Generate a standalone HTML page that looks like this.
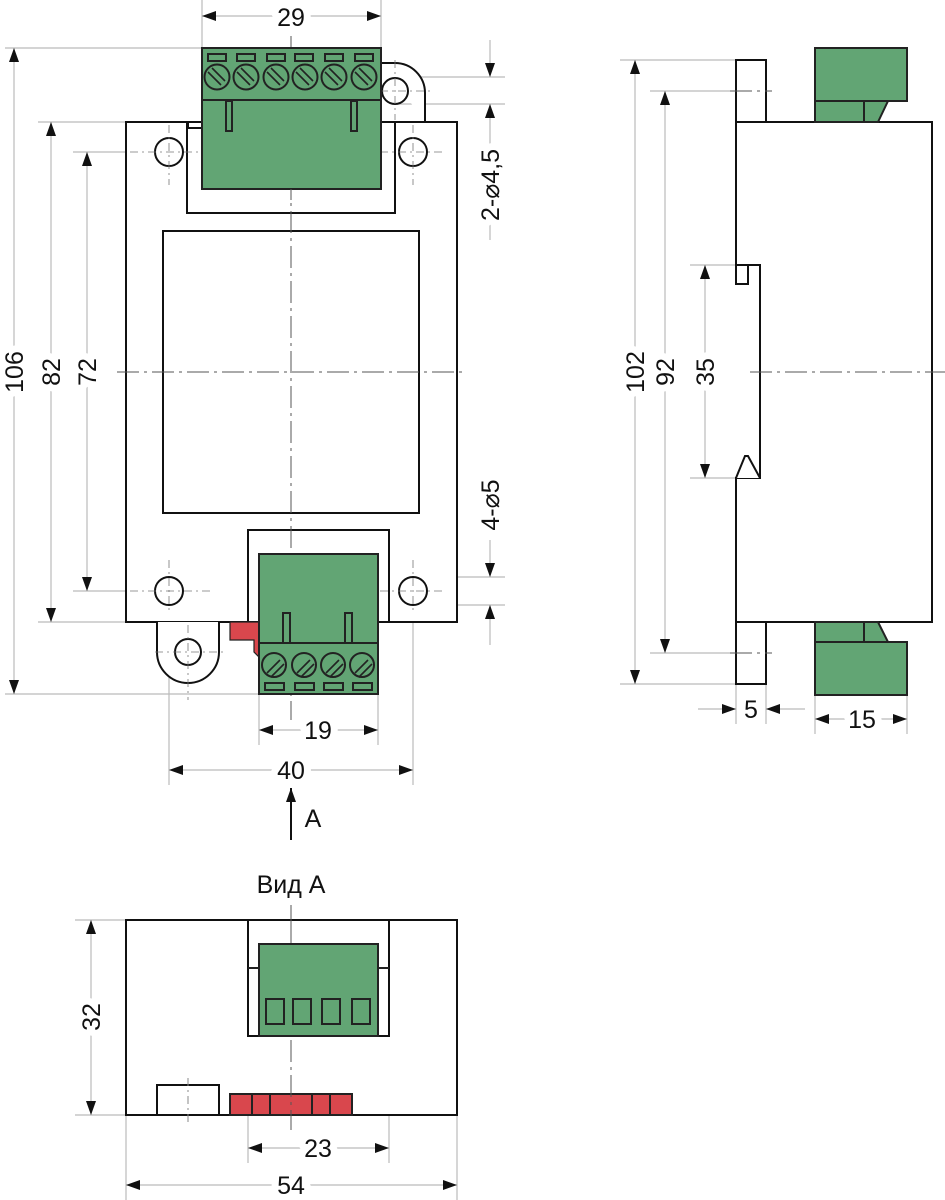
<!DOCTYPE html>
<html><head><meta charset="utf-8"><style>
html,body{margin:0;padding:0;background:#fff}
svg{display:block}
text{font-family:"Liberation Sans Narrow","Liberation Sans",sans-serif;font-size:25px;fill:#111}
.t{paint-order:stroke;stroke:#fff;stroke-width:14px;stroke-linejoin:round}
</style></head><body>
<svg width="945" height="1200" viewBox="0 0 945 1200" xmlns="http://www.w3.org/2000/svg">
<defs>
<marker id="a" viewBox="0 0 14 10" refX="14" refY="5" markerWidth="14" markerHeight="10" markerUnits="userSpaceOnUse" orient="auto-start-reverse"><path d="M0,0 L14,5 L0,10 Z" fill="#111"/></marker>
</defs>
<g stroke="#bbb" stroke-width="1.2" fill="none">
<line x1="202" y1="0" x2="202" y2="48"/><line x1="381" y1="0" x2="381" y2="48"/>
<line x1="5" y1="48" x2="202" y2="48"/><line x1="5" y1="694" x2="259" y2="694"/>
<line x1="38" y1="122" x2="126" y2="122"/><line x1="38" y1="622" x2="126" y2="622"/>
<line x1="73" y1="152" x2="140" y2="152"/><line x1="73" y1="591" x2="140" y2="591"/>
<line x1="395" y1="77" x2="505" y2="77"/><line x1="395" y1="104" x2="505" y2="104"/>
<line x1="413" y1="577" x2="505" y2="577"/><line x1="413" y1="605" x2="505" y2="605"/>
<line x1="259" y1="694" x2="259" y2="745"/><line x1="378" y1="694" x2="378" y2="745"/>
<line x1="169" y1="605" x2="169" y2="785"/><line x1="413" y1="605" x2="413" y2="785"/>
<line x1="620" y1="60" x2="736" y2="60"/><line x1="620" y1="684" x2="736" y2="684"/>
<line x1="650" y1="91" x2="730" y2="91"/><line x1="650" y1="653" x2="730" y2="653"/>
<line x1="690" y1="265" x2="736" y2="265"/><line x1="690" y1="478" x2="736" y2="478"/>
<line x1="736" y1="684" x2="736" y2="724"/><line x1="766" y1="684" x2="766" y2="724"/>
<line x1="815" y1="695" x2="815" y2="734"/><line x1="907" y1="695" x2="907" y2="734"/>
<line x1="75" y1="920" x2="126" y2="920"/><line x1="75" y1="1115" x2="126" y2="1115"/>
<line x1="248" y1="1036" x2="248" y2="1163"/><line x1="389" y1="1036" x2="389" y2="1163"/>
<line x1="126" y1="1115" x2="126" y2="1200"/><line x1="457" y1="1115" x2="457" y2="1200"/>
<line x1="202" y1="16" x2="381" y2="16" marker-start="url(#a)" marker-end="url(#a)"/>
<line x1="14" y1="48" x2="14" y2="694" marker-start="url(#a)" marker-end="url(#a)"/>
<line x1="51" y1="122" x2="51" y2="622" marker-start="url(#a)" marker-end="url(#a)"/>
<line x1="87" y1="152" x2="87" y2="591" marker-start="url(#a)" marker-end="url(#a)"/>
<line x1="490" y1="40" x2="490" y2="77" marker-end="url(#a)"/>
<line x1="490" y1="240" x2="490" y2="104" marker-end="url(#a)"/>
<line x1="490" y1="540" x2="490" y2="577" marker-end="url(#a)"/>
<line x1="490" y1="645" x2="490" y2="605" marker-end="url(#a)"/>
<line x1="259" y1="730" x2="378" y2="730" marker-start="url(#a)" marker-end="url(#a)"/>
<line x1="169" y1="770" x2="413" y2="770" marker-start="url(#a)" marker-end="url(#a)"/>
<line x1="635" y1="60" x2="635" y2="684" marker-start="url(#a)" marker-end="url(#a)"/>
<line x1="665" y1="91" x2="665" y2="653" marker-start="url(#a)" marker-end="url(#a)"/>
<line x1="705" y1="265" x2="705" y2="478" marker-start="url(#a)" marker-end="url(#a)"/>
<line x1="698" y1="709" x2="736" y2="709" marker-end="url(#a)"/>
<line x1="805" y1="709" x2="766" y2="709" marker-end="url(#a)"/>
<line x1="815" y1="719" x2="907" y2="719" marker-start="url(#a)" marker-end="url(#a)"/>
<line x1="91" y1="920" x2="91" y2="1115" marker-start="url(#a)" marker-end="url(#a)"/>
<line x1="248" y1="1148" x2="389" y2="1148" marker-start="url(#a)" marker-end="url(#a)"/>
<line x1="126" y1="1185" x2="457" y2="1185" marker-start="url(#a)" marker-end="url(#a)"/>
</g>
<g stroke="#111" stroke-width="2" fill="#fff">
<rect x="126" y="122" width="331" height="500"/>
<rect x="187" y="122" width="208" height="91"/>
<rect x="163" y="231" width="256" height="282"/>
<rect x="248" y="530" width="141" height="92"/>
<path d="M381,63 L395,63 A30,30 0 0 1 425,93 L425,122"/>
<path d="M157,622 L157,652 A31,31 0 0 0 219,652 L219,622" />
<circle cx="395" cy="91" r="13"/>
<circle cx="188" cy="652" r="13"/>
<circle cx="169" cy="152" r="14"/><circle cx="413" cy="152" r="14"/>
<circle cx="169" cy="591" r="14"/><circle cx="413" cy="591" r="14"/>
<rect x="188" y="122" width="14" height="6"/>
</g>
<!-- side view body -->
<g stroke="#111" stroke-width="2" fill="#fff">
<rect x="736" y="60" width="30" height="62"/>
<rect x="736" y="622" width="30" height="62"/>
<path d="M736,122 L932,122 L932,622 L736,622 L736,478 L760,478 L760,265 L736,265 Z"/>
<rect x="736" y="265" width="12" height="19"/>
<path d="M736,478 L745,456 L748,456 L760,478"/>
</g>
<!-- centerlines -->
<g stroke="#555" stroke-width="1" stroke-dasharray="22,5,3,5" fill="none">
<line x1="291" y1="36" x2="291" y2="720"/>
<line x1="117" y1="372" x2="466" y2="372"/>
<line x1="750" y1="372" x2="945" y2="372"/>
<line x1="730" y1="91" x2="772" y2="91"/><line x1="730" y1="653" x2="772" y2="653"/>
</g>
<g stroke="#777" stroke-width="0.8" stroke-dasharray="8,4,2,4" fill="none">
<line x1="130" y1="152" x2="205" y2="152"/><line x1="169" y1="125" x2="169" y2="185"/>
<line x1="380" y1="152" x2="445" y2="152"/><line x1="413" y1="125" x2="413" y2="185"/>
<line x1="130" y1="591" x2="210" y2="591"/><line x1="169" y1="560" x2="169" y2="610"/>
<line x1="380" y1="591" x2="445" y2="591"/><line x1="413" y1="560" x2="413" y2="610"/>
<line x1="155" y1="652" x2="225" y2="652"/><line x1="188" y1="625" x2="188" y2="700"/>
<line x1="380" y1="91" x2="430" y2="91"/><line x1="395" y1="60" x2="395" y2="120"/>
</g>
<!-- top connector -->
<g stroke="#222" stroke-width="2">
<rect x="202" y="48" width="179" height="141" fill="#62a574"/>
<line x1="202" y1="100" x2="381" y2="100"/>
<g fill="#62a574">
<rect x="208" y="54" width="18" height="7"/><rect x="237" y="54" width="18" height="7"/><rect x="267" y="54" width="18" height="7"/><rect x="295" y="54" width="18" height="7"/><rect x="325" y="54" width="18" height="7"/><rect x="355" y="54" width="18" height="7"/>
<circle cx="217" cy="77" r="12.5"/><circle cx="246" cy="77" r="12.5"/><circle cx="276" cy="77" r="12.5"/><circle cx="305" cy="77" r="12.5"/><circle cx="334" cy="77" r="12.5"/><circle cx="364" cy="77" r="12.5"/>
<rect x="226" y="101" width="6" height="30"/><rect x="351" y="101" width="6" height="30"/>
</g>
<path stroke-width="1.6" d="M208,72 l13,13 M212,68 l13,13 M237,72 l13,13 M241,68 l13,13 M267,72 l13,13 M271,68 l13,13 M296,72 l13,13 M300,68 l13,13 M325,72 l13,13 M329,68 l13,13 M355,72 l13,13 M359,68 l13,13"/>
</g>
<line x1="291" y1="189" x2="291" y2="200" stroke="#555" stroke-width="1"/>
<!-- bottom connector -->
<path d="M230,622 L259,622 L259,657 L254,652 L254,640 L230,640 Z" fill="#d9474d" stroke="#222" stroke-width="1.2"/>
<g stroke="#222" stroke-width="2">
<rect x="259" y="554" width="119" height="140" fill="#62a574"/>
<line x1="259" y1="643" x2="378" y2="643"/>
<g fill="#62a574">
<rect x="283" y="613" width="7" height="30"/><rect x="345" y="613" width="7" height="30"/>
<circle cx="274" cy="665" r="12"/><circle cx="304" cy="665" r="12"/><circle cx="333" cy="665" r="12"/><circle cx="362" cy="665" r="12"/>
<rect x="265" y="683" width="19" height="7"/><rect x="295" y="683" width="19" height="7"/><rect x="324" y="683" width="19" height="7"/><rect x="353" y="683" width="19" height="7"/>
</g>
<path stroke-width="1.6" d="M267,673 l13,-13 M271,677 l13,-13 M297,673 l13,-13 M301,677 l13,-13 M326,673 l13,-13 M330,677 l13,-13 M355,673 l13,-13 M359,677 l13,-13"/>
</g>
<line x1="291" y1="840" x2="291" y2="788" stroke="#111" stroke-width="2" marker-end="url(#a)"/>
<!-- side connectors -->
<g stroke="#222" stroke-width="2" fill="#62a574">
<rect x="815" y="48" width="92" height="53"/>
<rect x="815" y="101" width="49" height="21"/>
<path d="M864,101 L888,101 L878,122 L864,122 Z"/>
<rect x="815" y="642" width="92" height="53"/>
<rect x="815" y="622" width="49" height="20"/>
<path d="M864,622 L878,622 L888,642 L864,642 Z"/>
</g>
<!-- view A -->
<g stroke="#111" stroke-width="2" fill="#fff">
<rect x="126" y="920" width="331" height="195"/>
<rect x="248" y="920" width="141" height="116"/>
<rect x="157" y="1085" width="62" height="30"/>
</g>
<line x1="291" y1="905" x2="291" y2="944" stroke="#555" stroke-width="1"/>
<line x1="188" y1="1078" x2="188" y2="1122" stroke="#888" stroke-width="1" stroke-dasharray="8,4,2,4"/>
<g stroke="#222" stroke-width="2">
<rect x="259" y="944" width="119" height="92" fill="#62a574"/>
<line x1="248" y1="968" x2="259" y2="968"/><line x1="378" y1="968" x2="389" y2="968"/>
<g fill="#62a574"><rect x="266" y="999" width="18" height="25"/><rect x="293" y="999" width="18" height="25"/><rect x="322" y="999" width="18" height="25"/><rect x="352" y="999" width="18" height="25"/></g>
<rect x="230" y="1094" width="122" height="21" fill="#d9474d"/>
<path d="M252,1094 V1115 M270,1094 V1115 M312,1094 V1115 M330,1094 V1115"/>
</g>
<line x1="291" y1="1040" x2="291" y2="1130" stroke="#555" stroke-width="1" stroke-dasharray="22,5,3,5"/>
<text class="t" x="291" y="26" text-anchor="middle">29</text>
<text class="t" x="318" y="739" text-anchor="middle">19</text>
<text class="t" x="291" y="779" text-anchor="middle">40</text>
<text x="313" y="827" text-anchor="middle">A</text>
<text class="t" transform="translate(23,372) rotate(-90)" text-anchor="middle">106</text>
<text class="t" transform="translate(60,372) rotate(-90)" text-anchor="middle">82</text>
<text class="t" transform="translate(96,372) rotate(-90)" text-anchor="middle">72</text>
<text class="t" transform="translate(499,185) rotate(-90)" text-anchor="middle">2-⌀4,5</text>
<text class="t" transform="translate(499,505) rotate(-90)" text-anchor="middle">4-⌀5</text>
<text class="t" transform="translate(644,372) rotate(-90)" text-anchor="middle">102</text>
<text class="t" transform="translate(674,372) rotate(-90)" text-anchor="middle">92</text>
<text class="t" transform="translate(714,372) rotate(-90)" text-anchor="middle">35</text>
<text x="751" y="718" text-anchor="middle">5</text>
<text class="t" x="862" y="728" text-anchor="middle">15</text>
<text x="291" y="893" text-anchor="middle">Вид А</text>
<text class="t" transform="translate(100,1017) rotate(-90)" text-anchor="middle">32</text>
<text class="t" x="318" y="1157" text-anchor="middle">23</text>
<text class="t" x="291" y="1194" text-anchor="middle">54</text>
</svg>
</body></html>
